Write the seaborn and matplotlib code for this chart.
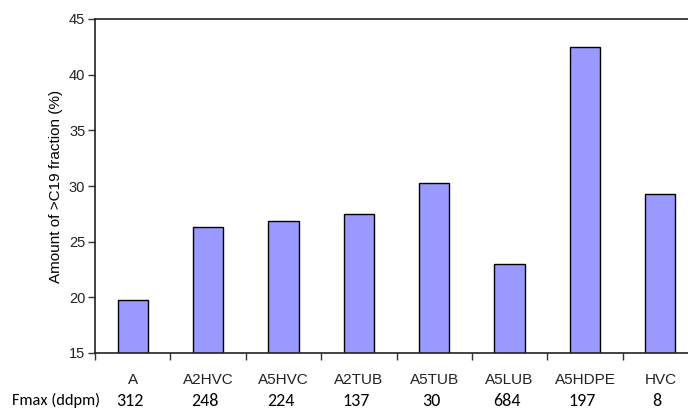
import matplotlib
matplotlib.use("Agg")
import matplotlib.pyplot as plt
from matplotlib import font_manager
import seaborn as sns
import pandas as pd

# Samples, share of the >C19 fraction (%), and Fmax (ddpm) per sample
samples = ["A", "A2HVC", "A5HVC", "A2TUB", "A5TUB", "A5LUB", "A5HDPE", "HVC"]
fraction_c19 = [19.8, 26.3, 26.9, 27.5, 30.3, 23.0, 42.5, 29.3]
fmax_ddpm = ["312", "248", "224", "137", "30", "684", "197", "8"]
y_ticks = [15, 20, 25, 30, 35, 40, 45]

installed = {f.name for f in font_manager.fontManager.ttflist}
narrow = "Liberation Sans Narrow" if "Liberation Sans Narrow" in installed else "Liberation Sans"
row_font = "Carlito" if "Carlito" in installed else "Lato"

sns.set_theme(style="white")
plt.rcParams["font.family"] = [narrow, "DejaVu Sans"]

df = pd.DataFrame({"sample": samples, "fraction": fraction_c19})

fig = plt.figure(figsize=(6.88, 4.09), dpi=100)
ax = fig.add_axes([95 / 688, 56 / 409, 603 / 688, 334 / 409])

sns.barplot(data=df, x="sample", y="fraction", color="#9999FF", saturation=1,
            width=0.4, edgecolor="black", linewidth=1.0, ax=ax)

ax.set_ylim(15, 45)
ax.set_xlim(-0.5, len(samples) - 0.5)
ax.set_yticks(y_ticks)
ax.set_yticklabels([str(t) for t in y_ticks], fontsize=10.5, color="#222222")
ax.set_ylabel("Amount of >C19 fraction (%)", fontsize=11, color="black", labelpad=4)
ax.set_xlabel("")

# Category ticks sit on the boundaries between samples
ax.set_xticks([i - 0.5 for i in range(len(samples) + 1)])
ax.set_xticklabels([])
ax.tick_params(axis="x", direction="out", length=5, width=1, color="#333333", bottom=True)
ax.tick_params(axis="y", direction="out", length=5, width=1, color="#333333", left=True, pad=2)

for side in ["left", "bottom", "top"]:
    ax.spines[side].set_visible(True)
    ax.spines[side].set_color("#222222")
    ax.spines[side].set_linewidth(1.2)
ax.spines["right"].set_visible(False)

trans = ax.get_xaxis_transform()
for i, (name, fm) in enumerate(zip(samples, fmax_ddpm)):
    ax.text(i, -0.08, name, transform=trans, ha="center", va="center",
            fontsize=11, color="#222222")
    ax.text(i - 0.04, -0.145, fm, transform=trans, ha="center", va="center",
            fontsize=13, family=[row_font, "DejaVu Sans"], color="black")

fig.text(12 / 688, 1 - 400 / 409, "Fmax (ddpm)", ha="left", va="center",
         fontsize=11.8, family=[row_font, "DejaVu Sans"], color="black")

fig.savefig("out.png", dpi=100)
